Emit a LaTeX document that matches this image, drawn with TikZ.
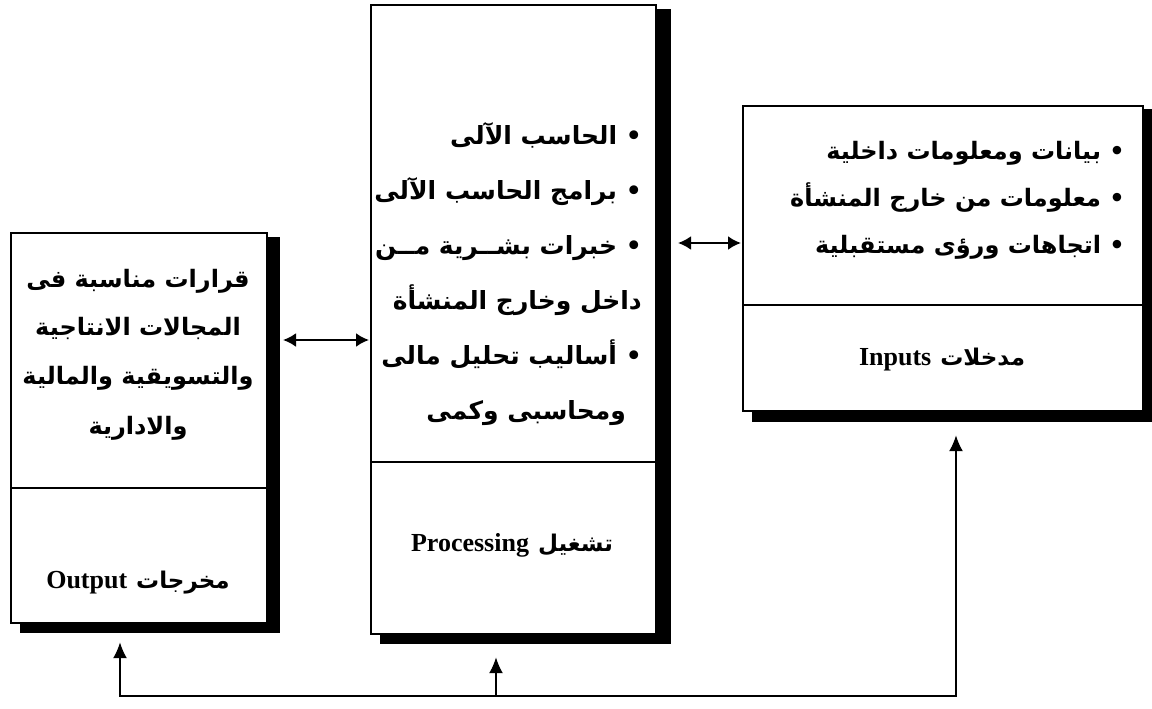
\documentclass[tikz,border=0pt]{standalone}
\usepackage{fontspec}
\setmainfont{Liberation Serif}
\newfontfamily\arfont[Script=Arabic]{DejaVu Sans}
\TeXXeTstate=1
\newcommand\enlabfont{\bfseries\fontsize{26}{30}\selectfont}
\newcommand\arlabfont{\arfont\bfseries\fontsize{23}{28}\selectfont}
\usetikzlibrary{arrows.meta,backgrounds}
\tikzset{
  box/.style={draw=black, line width=2.2pt, fill=white, inner sep=0pt},
  shadowbox/.style={fill=black},
  divider/.style={line width=2.2pt},
  arL/.style={font=\arfont\bfseries\fontsize{24}{28}\selectfont, inner sep=0pt, anchor=base},
  arM/.style={font=\arfont\bfseries\fontsize{25}{28}\selectfont, inner sep=0pt, anchor=base east},
  arR/.style={font=\arfont\bfseries\fontsize{24}{28}\selectfont, inner sep=0pt, anchor=base east},
  lab/.style={inner sep=0pt, anchor=center},
  uparrow/.style={line width=1.8pt, {Latex[length=16pt,width=14pt]}-{Latex[length=16pt,width=14pt]}},
  singlearrow/.style={line width=1.8pt, -{Latex[length=16pt,width=14pt]}},
  twoway/.style={line width=2.4pt, {Latex[length=13pt,width=14pt]}-{Latex[length=13pt,width=14pt]}}
}
\begin{document}
\begin{tikzpicture}[x=1pt,y=-1pt]
\useasboundingbox (0,0) rectangle (1152,709);
% boxes
\node[box, anchor=north west, minimum width=256pt, minimum height=390pt] (L) at (10,232) {};
\node[box, anchor=north west, minimum width=285pt, minimum height=629pt] (M) at (370,4) {};
\node[box, anchor=north west, minimum width=400pt, minimum height=305pt] (R) at (742,105) {};
\begin{scope}[on background layer]
\fill[shadowbox] ([xshift=10pt,yshift=-5pt]L.north west) rectangle ([xshift=12pt,yshift=-9pt]L.south east);
\fill[shadowbox] ([xshift=10pt,yshift=-5pt]M.north west) rectangle ([xshift=14pt,yshift=-9pt]M.south east);
\fill[shadowbox] ([xshift=10pt,yshift=-4pt]R.north west) rectangle ([xshift=10pt,yshift=-10pt]R.south east);
\end{scope}
% dividers
\draw[divider] (L.west |- 0,488) -- (L.east |- 0,488);
\draw[divider] (M.west |- 0,462) -- (M.east |- 0,462);
\draw[divider] (R.west |- 0,305) -- (R.east |- 0,305);
% left box text
\node[arL] (L1) at (138,287) {\beginR قرارات مناسبة فى\endR};
\node[arL] (L2) at (138,335) {\beginR المجالات الانتاجية\endR};
\node[arL] (L3) at (138,384) {\beginR والتسويقية والمالية\endR};
\node[arL] (L4) at (138,434) {\beginR والادارية\endR};
\node[lab] (Llab) at (138,583) {{\enlabfont Output}\hspace{9pt}{\arlabfont\beginR مخرجات\endR}};
% middle box text
\node[arM] (M1) at (642,144) {\beginR • الحاسب الآلى\endR};
\node[arM] (M2) at (642,199) {\beginR • برامج الحاسب الآلى\endR};
\node[arM] (M3) at (642,254) {\beginR • خبرات بشــرية مــن\endR};
\node[arM] (M4) at (642,309) {\beginR داخل وخارج المنشأة\endR};
\node[arM] (M5) at (642,364) {\beginR • أساليب تحليل مالى\endR};
\node[arM] (M6) at (626,419) {\beginR ومحاسبى وكمى\endR};
\node[lab] (Mlab) at (512,545) {{\enlabfont Processing}\hspace{9pt}{\arlabfont\beginR تشغيل\endR}};
% right box text
\node[arR] (R1) at (1125,159) {\beginR • بيانات ومعلومات داخلية\endR};
\node[arR] (R2) at (1125,206) {\beginR • معلومات من خارج المنشأة\endR};
\node[arR] (R3) at (1125,253) {\beginR • اتجاهات ورؤى مستقبلية\endR};
\node[lab] (Rlab) at (942,360) {{\enlabfont Inputs}\hspace{9pt}{\arlabfont\beginR مدخلات\endR}};
% two-way arrows
\coordinate (lm1) at (283,340);
\coordinate (lm2) at (369,340);
\draw[twoway] (lm1) -- (lm2);
\coordinate (mr1) at (678,243);
\coordinate (mr2) at (741,243);
\draw[twoway] (mr1) -- (mr2);
% feedback line
\coordinate (bl) at (120,696);
\coordinate (bm) at (496,696);
\coordinate (br) at (956,696);
\draw[uparrow] ([yshift=-18pt]L.south -| bl) -- (bl) -- (br) -- ([yshift=-23pt]R.south -| br);
\draw[singlearrow] (bm) -- ([yshift=-22pt]M.south -| bm);
\end{tikzpicture}
\end{document}
